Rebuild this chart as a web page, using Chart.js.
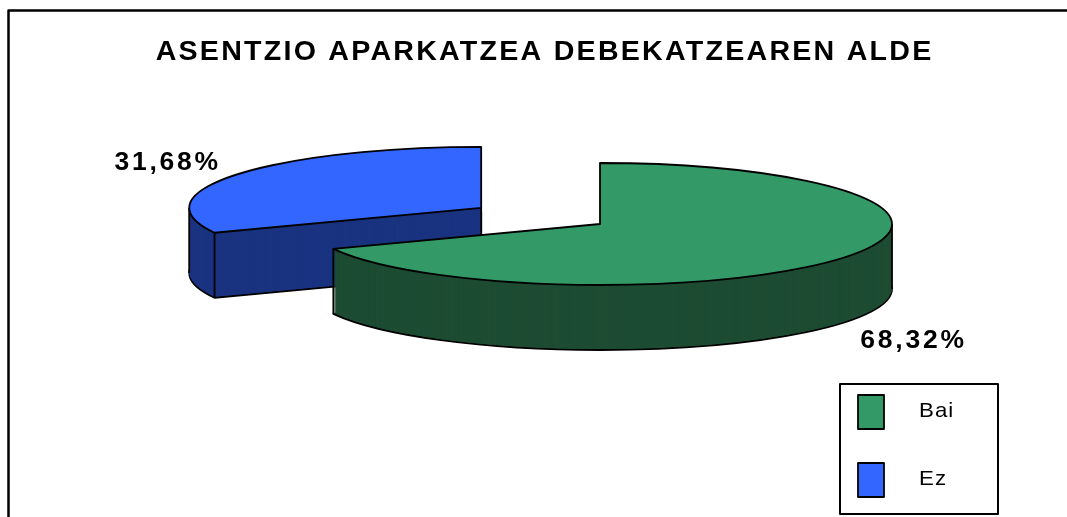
<!DOCTYPE html>
<html>
<head>
<meta charset="utf-8">
<script src="https://cdn.jsdelivr.net/npm/chart.js@4/dist/chart.umd.min.js"></script>
<style>
  html, body { margin: 0; padding: 0; background: #fff; }
  canvas { display: block; }
</style>
</head>
<body>
<canvas id="tarta" width="1067" height="517"></canvas>
<script>
const izenburua = 'ASENTZIO APARKATZEA DEBEKATZEAREN ALDE';
const etiketak = ['Bai', 'Ez'];
const ehunekoak = [68.32, 31.68];
const goikoKoloreak = ['#339966', '#3366ff'];
const albokoKoloreak = ['#1d4c33', '#1a3380'];
const lehertzea = [0, 0.485];          // zatia zentrotik zenbat aldentzen den (erradioaren zatikia)

// 3D itxura: elipsearen zentroa, erradioak eta sakonera
const CX = 600, CY = 224, RX = 292, RY = 61, SAKONERA = 65;
const FONT = '"Liberation Sans", Arial, sans-serif';
const TITULU_X = 543.5, ZABALTZEA = 1.06;
const LERRO_LODIERA = 1.8;

const ehunekoTestua = (v) => v.toFixed(2).replace('.', ',') + '%';

function zatiaMarraztu(ctx, arc, i) {
    const {x, y, outerRadius: r, startAngle: a0, endAngle: a1} =
        arc.getProps(['x', 'y', 'outerRadius', 'startAngle', 'endAngle'], true);
    const erdi = (a0 + a1) / 2;
    const ox = CX + Math.cos(erdi) * lehertzea[i] * RX;
    const oy = CY + Math.sin(erdi) * lehertzea[i] * RY;

    const mapatu = (dy) => {
        ctx.translate(ox, oy + dy);
        ctx.scale(RX / r, RY / r);
        ctx.translate(-x, -y);
    };
    const bete = (dy, kolorea) => {
        ctx.save();
        mapatu(dy);
        const kopia = Object.create(arc);
        kopia.options = Object.assign({}, arc.options, {backgroundColor: kolorea, borderWidth: 0});
        kopia.draw(ctx);
        ctx.restore();
    };
    const ertza = (dy) => {
        ctx.save();
        mapatu(dy);
        ctx.beginPath();
        ctx.moveTo(x, y);
        ctx.arc(x, y, r, a0, a1);
        ctx.closePath();
        ctx.restore();
        ctx.strokeStyle = '#000';
        ctx.lineWidth = LERRO_LODIERA;
        ctx.lineJoin = 'round';
        ctx.stroke();
    };
    const barruan = (t) => [t, t + 2 * Math.PI, t - 2 * Math.PI].some(a => a >= a0 && a <= a1);

    // alboa
    bete(SAKONERA, albokoKoloreak[i]);
    ertza(SAKONERA);
    for (let k = SAKONERA - 1; k >= 1; k--) bete(k, albokoKoloreak[i]);

    // ertz bertikalak
    const lerroak = [];
    [0, Math.PI].forEach(t => { if (barruan(t)) lerroak.push([ox + Math.cos(t) * RX, oy + Math.sin(t) * RY]); });
    [a0, a1].forEach(t => { if (Math.sin(t) > 0.01) lerroak.push([ox + Math.cos(t) * RX, oy + Math.sin(t) * RY]); });
    if (!barruan(Math.PI / 2)) lerroak.push([ox, oy]);
    ctx.save();
    ctx.strokeStyle = '#000';
    ctx.lineWidth = LERRO_LODIERA;
    lerroak.forEach(([px, py]) => {
        ctx.beginPath();
        ctx.moveTo(px, py);
        ctx.lineTo(px, py + SAKONERA);
        ctx.stroke();
    });
    ctx.restore();

    // goiko aurpegia
    bete(0, goikoKoloreak[i]);
    ertza(0);

    return {erdi, ox, oy};
}

function testuZabala(ctx, testua, x, y, zabalera) {
    ctx.save();
    ctx.translate(x, y);
    ctx.scale(zabalera, 1);
    ctx.fillText(testua, 0, 0);
    ctx.restore();
}

const tarta3d = {
    id: 'tarta3d',
    beforeDraw(chart) {
        // izenburua pixka bat zabalduta marrazten da
        const ctx = chart.ctx;
        ctx.save();
        ctx.translate(TITULU_X, 0);
        ctx.scale(ZABALTZEA, 1);
        ctx.translate(-TITULU_X, 0);
        ctx.letterSpacing = '2.1px';
    },
    beforeDatasetsDraw(chart) {
        const ctx = chart.ctx;
        ctx.restore();
        ctx.letterSpacing = '0px';
        const arcs = chart.getDatasetMeta(0).data;
        chart.$zatiak = [];
        [1, 0].forEach(i => { chart.$zatiak[i] = zatiaMarraztu(ctx, arcs[i], i); });
        return false;
    },
    afterDraw(chart) {
        const ctx = chart.ctx;
        const datuak = chart.data.datasets[0].data;
        ctx.save();

        // markoa
        ctx.strokeStyle = '#000';
        ctx.lineWidth = 2.5;
        ctx.beginPath();
        ctx.moveTo(8.5, 517);
        ctx.lineTo(8.5, 10.5);
        ctx.lineTo(1067, 10.5);
        ctx.stroke();

        // ehunekoak
        ctx.fillStyle = '#000';
        ctx.font = 'bold 25px ' + FONT;
        ctx.letterSpacing = '2.6px';
        ctx.textAlign = 'center';
        ctx.textBaseline = 'middle';
        (chart.$zatiak || []).forEach((z, i) => {
            const c = Math.cos(z.erdi), s = Math.sin(z.erdi);
            const lx = z.ox + c * RX * 1.28;
            const ly = z.oy + s * RY * 1.28 + (s > 0 ? SAKONERA + 10 : -2);
            testuZabala(ctx, ehunekoTestua(datuak[i]), lx, ly, ZABALTZEA);
        });

        // legenda
        ctx.lineWidth = 2;
        ctx.strokeRect(840, 384, 158, 130);
        ctx.font = '21px ' + FONT;
        ctx.letterSpacing = '1px';
        ctx.textAlign = 'left';
        ctx.lineWidth = 1.8;
        chart.data.labels.forEach((izena, i) => {
            const y = 395 + i * 68;
            ctx.fillStyle = goikoKoloreak[i];
            ctx.fillRect(858, y, 26, 34);
            ctx.strokeRect(858, y, 26, 34);
            ctx.fillStyle = '#000';
            testuZabala(ctx, izena, 919, y + 16, ZABALTZEA);
        });
        ctx.restore();
    }
};

new Chart(document.getElementById('tarta'), {
    type: 'pie',
    data: {
        labels: etiketak,
        datasets: [{
            data: ehunekoak,
            backgroundColor: goikoKoloreak,
            borderWidth: 0
        }]
    },
    options: {
        responsive: false,
        animation: false,
        layout: { padding: { left: 22 } },
        plugins: {
            legend: { display: false },
            tooltip: { enabled: false },
            title: {
                display: true,
                text: izenburua,
                color: '#000',
                font: { family: FONT, size: 27, weight: 'bold', lineHeight: 1.2 },
                padding: { top: 36, bottom: 10 }
            }
        }
    },
    plugins: [tarta3d]
});
</script>
</body>
</html>
